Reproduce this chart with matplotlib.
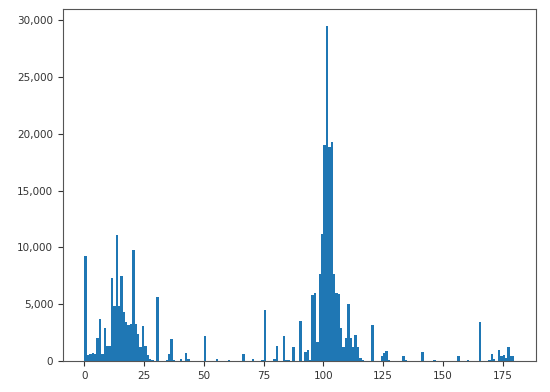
import matplotlib
matplotlib.use("Agg")
import matplotlib.pyplot as plt
from matplotlib.ticker import StrMethodFormatter

# histogram counts, one per bin of width 1 starting at 0
bin_starts = list(range(180))
counts = [
    9200, 500, 600, 700, 600, 2000, 3700, 600, 2900, 1300,      # 0-9
    1300, 7300, 4800, 11100, 4800, 7500, 4300, 3400, 3200, 3300,  # 10-19
    9800, 3300, 2400, 1200, 3100, 1300, 500, 200, 100, 0,         # 20-29
    5600, 0, 0, 0, 100, 600, 1900, 100, 0, 0,                     # 30-39
    200, 0, 700, 200, 0, 0, 0, 0, 0, 0,                           # 40-49
    2200, 0, 0, 0, 0, 200, 0, 0, 0, 0,                            # 50-59
    100, 0, 0, 0, 0, 0, 600, 0, 0, 0,                             # 60-69
    200, 0, 0, 0, 100, 4500, 0, 0, 0, 200,                        # 70-79
    1300, 0, 0, 2200, 100, 100, 0, 1200, 0, 0,                    # 80-89
    3500, 0, 800, 1000, 100, 5800, 6000, 1700, 7700, 11200,       # 90-99
    19000, 29500, 18800, 19300, 7700, 6000, 5900, 2900, 1200, 2000,  # 100-109
    5000, 2000, 1200, 2300, 1200, 300, 100, 0, 0, 0,              # 110-119
    3200, 0, 0, 0, 400, 700, 900, 100, 0, 0,                      # 120-129
    0, 0, 0, 400, 100, 0, 0, 0, 0, 0,                             # 130-139
    0, 800, 0, 0, 0, 0, 100, 0, 0, 0,                             # 140-149
    0, 0, 0, 0, 0, 0, 400, 0, 0, 0,                               # 150-159
    100, 0, 0, 0, 0, 3400, 0, 0, 0, 100,                          # 160-169
    600, 200, 0, 1000, 400, 500, 300, 1200, 400, 400,             # 170-179
]

fig = plt.figure(figsize=(5.5, 3.92), dpi=100)
ax = fig.add_axes([0.1145, 0.079, 0.86, 0.898])
ax.bar(bin_starts, counts, width=1, align="edge", color="#1f77b4")
ax.yaxis.set_major_formatter(StrMethodFormatter("{x:,.0f}"))
ax.tick_params(labelsize=7.5, colors="#333333")
for s in ax.spines.values():
    s.set_color("#555555")
fig.savefig("out.png")
